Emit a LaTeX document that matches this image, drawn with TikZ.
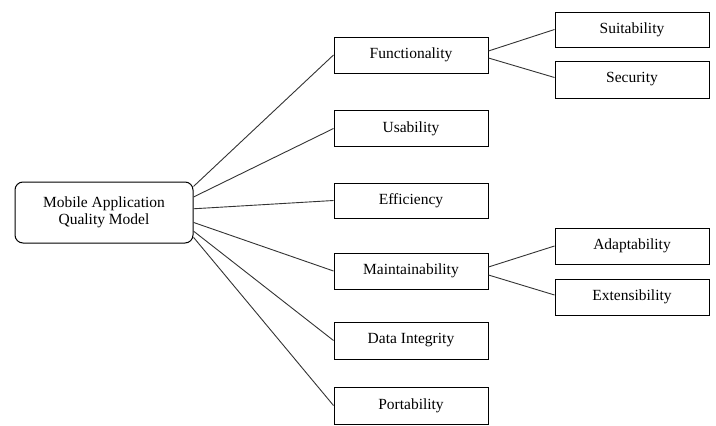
\documentclass[tikz,border=0pt]{standalone}
\usepackage{fontspec}
\setmainfont{Liberation Serif}
\usetikzlibrary{calc}
\begin{document}
\begin{tikzpicture}[x=1pt,y=-1pt,
  box/.style={draw=black,line width=1pt,rectangle,inner sep=0pt,
    minimum width=154pt,minimum height=36pt,font=\fontsize{15.5}{17}\selectfont},
  rootbox/.style={draw=black,line width=1pt,rectangle,rounded corners=8pt,inner sep=0pt,
    minimum width=178pt,minimum height=61pt,align=center,font=\fontsize{15.5}{17}\selectfont},
  link/.style={draw=black!80,line width=0.9pt}]
\useasboundingbox (0,0) rectangle (716,426);
\node[rootbox] (root) at (104,212.5) {Mobile Application\\Quality Model};
\node[box] (func) at (411,55) {Functionality};
\node[box] (usa) at (411,128.5) {Usability};
\node[box,minimum height=35pt] (eff) at (411,200.5) {Efficiency};
\node[box] (main) at (411,271) {Maintainability};
\node[box,minimum height=37pt] (data) at (411,340.5) {Data Integrity};
\node[box,minimum height=37pt] (port) at (411,405.5) {Portability};
\node[box,minimum height=35pt] (sui) at (632,29.5) {Suitability};
\node[box,minimum height=37pt] (sec) at (632,79.5) {Security};
\node[box] (ada) at (632,246) {Adaptability};
\node[box] (ext) at (632,297) {Extensibility};
\draw[link] ($(root.north east)!0.08!(root.south east)$) -- (func.west);
\draw[link] ($(root.north east)!0.25!(root.south east)$) -- (usa.west);
\draw[link] ($(root.north east)!0.44!(root.south east)$) -- (eff.west);
\draw[link] ($(root.north east)!0.66!(root.south east)$) -- (main.west);
\draw[link] ($(root.north east)!0.80!(root.south east)$) -- (data.west);
\draw[link] ($(root.north east)!0.90!(root.south east)$) -- (port.west);
\draw[link] ([yshift=4pt]func.east) -- (sui.west);
\draw[link] ([yshift=-3pt]func.east) -- ([yshift=2pt]sec.west);
\draw[link] ([yshift=4pt]main.east) -- (ada.west);
\draw[link] ([yshift=-4pt]main.east) -- ([yshift=2pt]ext.west);
\end{tikzpicture}
\end{document}
